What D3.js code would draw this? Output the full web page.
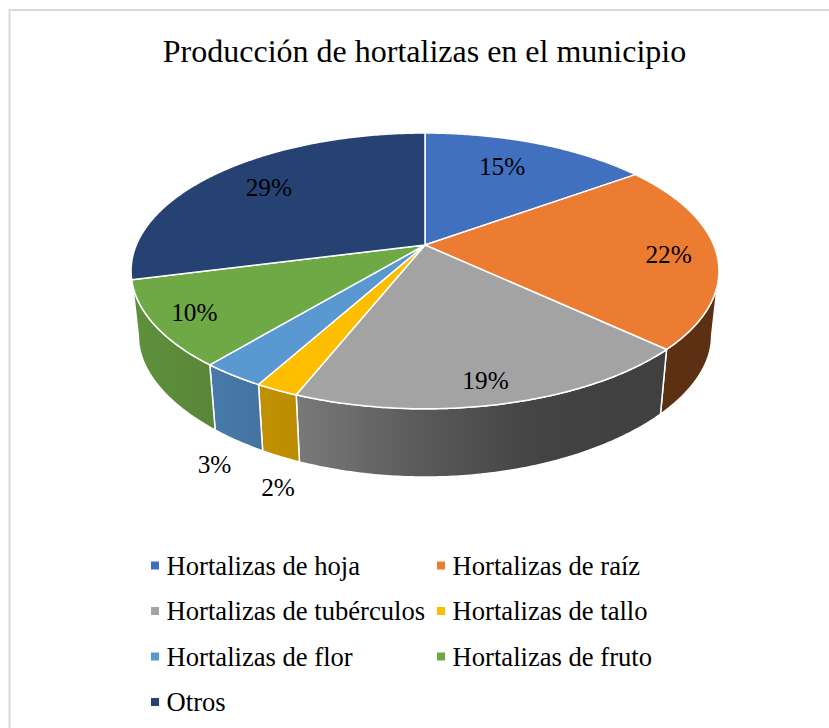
<!DOCTYPE html>
<html><head><meta charset="utf-8">
<script src="https://cdn.jsdelivr.net/npm/d3@7"></script>
<style>html,body{margin:0;padding:0;background:#fff}svg{display:block}text{font-family:"Liberation Serif",serif;fill:#000}</style>
</head><body><div id="c"></div>
<script>
const titleText = "Producción de hortalizas en el municipio";
const categories = ["Hortalizas de hoja","Hortalizas de raíz","Hortalizas de tubérculos","Hortalizas de tallo","Hortalizas de flor","Hortalizas de fruto","Otros"];
const values = [15,22,19,2,3,10,29];
const colors = ["#4170BF","#EB7C31","#A3A3A3","#FDBE00","#5A98D2","#6FA946","#254273"];
// label placement, in the disc's own polar terms (layout only)
const labelRadius = [.73,.836,.875,1.41,1.378,.864,.756];
const labelTurn = [-2.7,1,1,-9.6,-10.4,0,1];

const W=829,H=728;
const apex={x:425,y:245}, A=288.7, B=133, k=.188, lowerScale=.975, lowerShift=66.7, lowerB=124, lowerK=.25;
const svg=d3.select("#c").append("svg").attr("width",W).attr("height",H);
const defs=svg.append("defs");
svg.append("rect").attr("x",9.5).attr("y",10).attr("width",W+40).attr("height",H+40)
  .attr("fill","#fff").attr("stroke","#D9D9D9").attr("stroke-width",2);
svg.append("text").attr("x",424.5).attr("y",62).attr("text-anchor","middle").attr("font-size",32).text(titleText);

// perspective projection of the unit disc (top face and bottom face)
function project(theta,r,lower){
  const u=r*Math.sin(theta), v=-r*Math.cos(theta), d=1-k*v;
  const X=A*u/d, Y=B*v/d;
  return lower?[apex.x+lowerScale*X, apex.y+lowerShift+lowerB*v/(1-lowerK*v)]:[apex.x+X, apex.y+Y];
}
const pie=d3.pie().sort(null).value(d=>d)(values);
const line=d3.line();
const rim=(a,b,lower)=>{
  const n=Math.max(2,Math.ceil((b-a)/0.01));
  return d3.range(n+1).map(i=>project(a+(b-a)*i/n,1,lower));
};
// light falls off from left to right along the wall
const shade=d3.scaleLinear().domain([135,215,262,300,420,540,660,720]).range([.85,.80,.76,.74,.55,.41,.39,.39]).clamp(true);

// only the part of the side between the disc's two silhouette tangents can be seen
const tangentRight=Math.PI-Math.acos(k), tangentLeft=Math.PI+Math.acos(k);
const minWall=5*Math.PI/180;
const visible=pie.map(s=>[Math.max(s.startAngle,tangentRight),Math.min(s.endAngle,tangentLeft)])
  .map((r,i)=>({i,a:r[0],b:r[1]})).filter(r=>r.b-r.a>minWall);
visible[0].a=tangentRight; visible[visible.length-1].b=tangentLeft;

const walls=svg.append("g"), tops=svg.append("g");
visible.forEach(({i,a,b})=>{
  const up=rim(a,b,false), low=rim(a,b,true);
  const pts=up.concat(low.reverse());
  const xs=d3.extent(pts,p=>p[0]);
  const g=defs.append("linearGradient").attr("id","w"+i).attr("gradientUnits","userSpaceOnUse")
    .attr("x1",xs[0]).attr("x2",xs[1]).attr("y1",0).attr("y2",0);
  d3.range(9).forEach(j=>{
    const x=xs[0]+(xs[1]-xs[0])*j/8, c=d3.rgb(colors[i]), f=shade(x);
    g.append("stop").attr("offset",j/8).attr("stop-color",d3.rgb(c.r*f,c.g*f,c.b*f).formatHex());
  });
  walls.append("path").attr("d",line(pts)+"Z").attr("fill",`url(#w${i})`)
    .attr("stroke","#fff").attr("stroke-width",1.5).attr("stroke-linejoin","round");
});
pie.forEach((s,i)=>{
  tops.append("path").attr("d",line([[apex.x,apex.y]].concat(rim(s.startAngle,s.endAngle,false)))+"Z")
    .attr("fill",colors[i]).attr("stroke","#fff").attr("stroke-width",1.5).attr("stroke-linejoin","round");
});
pie.forEach((s,i)=>{
  const mid=(s.startAngle+s.endAngle)/2+labelTurn[i]*Math.PI/180;
  const p=project(mid,labelRadius[i],false);
  svg.append("text").attr("x",p[0]).attr("y",p[1]).attr("dy",".34em").attr("text-anchor","middle")
    .attr("font-size",25.3).text(values[i]+"%");
});
// legend: two columns, row by row
const colX=d3.scalePoint().domain([0,1]).range([151,437]);
const rowY=d3.scaleLinear().domain([0,3]).range([565.5,702]);
categories.forEach((c,i)=>{
  const x=colX(i%2), y=rowY(Math.floor(i/2));
  svg.append("rect").attr("x",x).attr("y",y-4).attr("width",8).attr("height",8).attr("fill",colors[i]);
  svg.append("text").attr("x",x+15.6).attr("y",y).attr("dy",".34em").attr("font-size",26.6).text(c);
});
</script></body></html>
